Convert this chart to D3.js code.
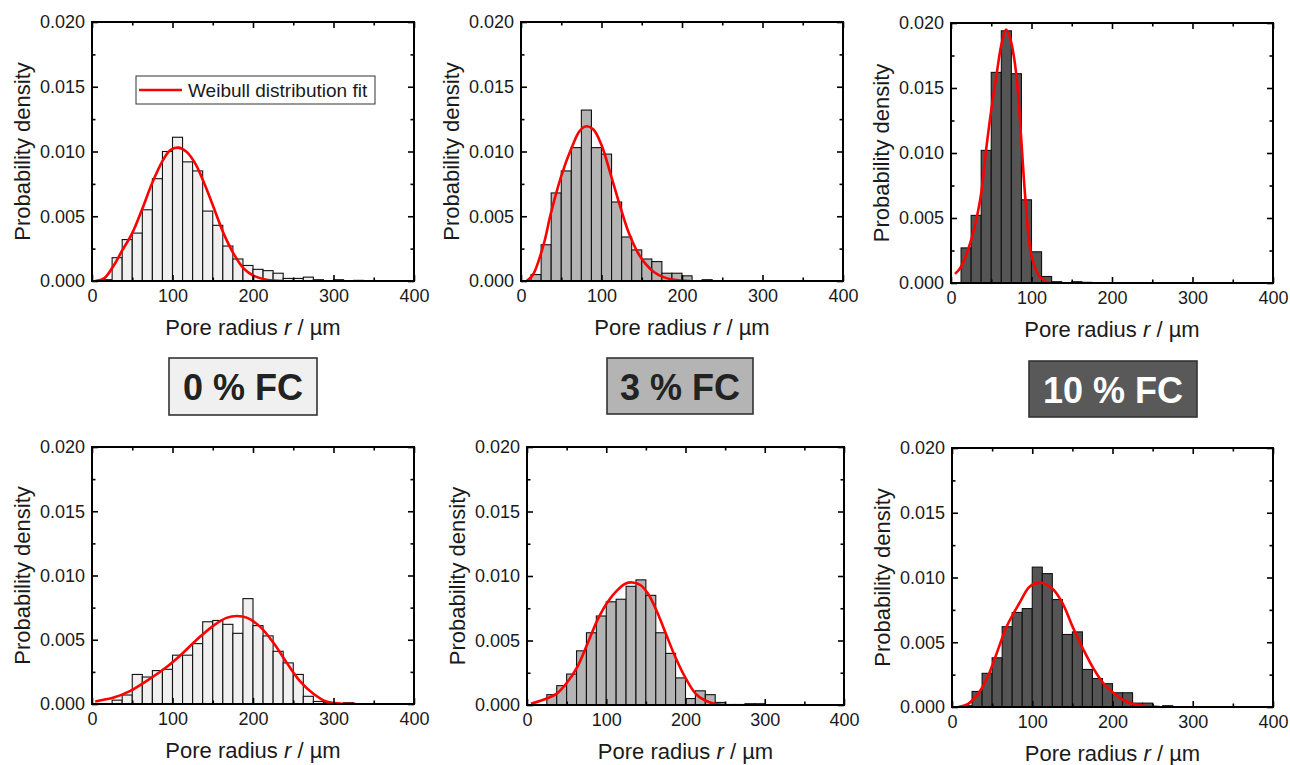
<!DOCTYPE html>
<html><head><meta charset="utf-8">
<script src="https://cdn.jsdelivr.net/npm/d3@7"></script>
<style>
body{margin:0;background:#fff}
svg text{font-family:"Liberation Sans",Arial,Helvetica,sans-serif}
</style>
</head><body>
<svg id="chart" width="1290" height="765"></svg>
<script>
// ---- data ----
const bins = [12.5,25,37.5,50,62.5,75,87.5,100,112.5,125,137.5,150,162.5,175,187.5,200,212.5,225,237.5,250,262.5,275,287.5,300,312.5,325,337.5];
const binWidth = 12.5;

const dens0Top  = [0.0001,0.0018,0.0032,0.0037,0.0055,0.0079,0.0100,0.0111,0.0092,0.0085,0.0054,0.0043,0.0027,0.0017,0.0012,0.0009,0.0008,0.0006,0.0002,0.0002,0.0003,0.0001,0,0.0001,0,0.00005,0];
const dens3Top  = [0.0005,0.0028,0.0068,0.0085,0.0103,0.0132,0.0103,0.0098,0.0061,0.0034,0.0024,0.0017,0.0015,0.0006,0.0006,0.0004,0,0.0001,0,0,0,0,0,0,0,0,0];
const dens10Top = [0.0027,0.0052,0.0102,0.0162,0.0194,0.0161,0.0064,0.0024,0.0005,0.0001,0,0.0001,0.00005,0,0,0,0,0,0,0,0,0,0,0,0,0,0];
const dens0Bot  = [0,0.0003,0.0007,0.0023,0.0021,0.0026,0.0027,0.0038,0.0038,0.0047,0.0064,0.0065,0.0062,0.0055,0.0082,0.0061,0.0053,0.0041,0.0032,0.0023,0.0006,0.0002,0.0001,0,0.0001,0,0];
const dens3Bot  = [0,0.0008,0.0015,0.0024,0.0042,0.0056,0.0069,0.0080,0.0082,0.0092,0.0097,0.0085,0.0056,0.0040,0.0021,0.0005,0.0011,0.0008,0.0002,0.00004,0.00004,0.0001,0.0001,0,0,0,0];
const dens10Bot = [0.0001,0.0012,0.0026,0.0038,0.0062,0.0073,0.0076,0.0108,0.0103,0.0083,0.0056,0.0058,0.0029,0.0022,0.0018,0.0011,0.0011,0.0003,0.0003,0,0.0001,0,0,0,0,0,0];

// Weibull fit curves [r, density]
const fit0Top  = [[4,0],[15,0.0002],[27,0.0012],[37,0.0023],[50,0.0037],[62,0.0055],[75,0.0076],[87,0.0092],[97,0.0101],[107,0.0103],[117,0.0100],[128,0.0091],[139,0.0076],[151,0.0057],[164,0.0036],[176,0.0021],[188,0.0010],[201,0.0004],[217,0.0001],[238,0]];
const fit3Top  = [[7,0],[15,0.0005],[28,0.0028],[37,0.0052],[50,0.0081],[63,0.0103],[73,0.0116],[81.5,0.01195],[90,0.0117],[100,0.0105],[112,0.0081],[124,0.0056],[134,0.0037],[145,0.0022],[155,0.0013],[165,0.0007],[177,0.0003],[190,0.0001],[210,0]];
const fit10Top = [[5,0.0007],[12,0.0012],[25,0.0033],[36.5,0.0065],[43.5,0.0102],[50,0.0133],[57,0.0162],[62.5,0.0183],[68.5,0.0195],[74,0.0187],[81,0.0161],[87,0.0113],[92.5,0.0064],[100,0.0021],[110,0.0005],[121,0]];
const fit0Bot  = [[4,0.0002],[27,0.0005],[47,0.0010],[68,0.0018],[89,0.0027],[110,0.0038],[130,0.0050],[151,0.0061],[167,0.0067],[180,0.00685],[193,0.0067],[209,0.0060],[225,0.0048],[242,0.0032],[258,0.0018],[275,0.0008],[291,0.0002],[308,0.00004],[328,0]];
const fit3Bot  = [[5,0.0001],[25,0.0005],[38,0.0009],[50,0.0017],[63,0.0029],[76,0.0047],[89,0.0066],[102,0.0080],[114,0.0089],[124,0.0094],[133,0.0095],[143,0.0093],[153,0.0086],[165,0.0071],[176,0.0054],[188,0.0036],[200,0.0021],[214,0.0008],[231,0.0002],[248,0]];
const fit10Bot = [[8,0],[19,0.0002],[31,0.0009],[43.5,0.0022],[56,0.0042],[68,0.0062],[84.7,0.0081],[97,0.0093],[110,0.0096],[124,0.0092],[137,0.0081],[151,0.0061],[164,0.0044],[176,0.0030],[189,0.0018],[201,0.0011],[213.5,0.00054],[226,0.00023],[243,0.00008],[259,0]];

const xTicks = [0,100,200,300,400];
const xMinor = [50,150,250,350];
const yTicks = [0,0.005,0.010,0.015,0.020];
const yMinor = [0.0025,0.0075,0.0125,0.0175];
const groupLabels = ["0 % FC","3 % FC","10 % FC"];
const xTitle = ["Pore radius ","r"," / µm"];
const yTitle = "Probability density";
const legendText = "Weibull distribution fit";

// ---- layout ----
const fills = ["#f0f0f0","#b4b4b4","#555555"];
const panels = [
  {l:92, r:414, t:22, b:281, dens:dens0Top, fit:fit0Top, fill:fills[0], legend:true},
  {l:521,r:843, t:22, b:281, dens:dens3Top, fit:fit3Top, fill:fills[1]},
  {l:951,r:1273,t:23, b:283, dens:dens10Top,fit:fit10Top,fill:fills[2]},
  {l:92, r:414, t:447,b:704, dens:dens0Bot, fit:fit0Bot, fill:fills[0]},
  {l:527,r:844, t:447,b:705, dens:dens3Bot, fit:fit3Bot, fill:fills[1]},
  {l:952,r:1273,t:448,b:707, dens:dens10Bot,fit:fit10Bot,fill:fills[2]}
];
const boxes = [
  {x:169,y:358,w:148,h:57, fill:"#f0f0f0", color:"#222"},
  {x:607,y:358,w:146,h:56, fill:"#b4b4b4", color:"#222"},
  {x:1029,y:361,w:168,h:56, fill:"#595959", color:"#ffffff"}
];

const svg = d3.select("#chart");
const tickFont = "18px", titleFont = "22px";

panels.forEach((p,pi) => {
  const g = svg.append("g");
  const x = d3.scaleLinear().domain([0,400]).range([p.l,p.r]);
  const y = d3.scaleLinear().domain([0,0.02]).range([p.b,p.t]);

  const clipId = "clip"+pi;
  g.append("clipPath").attr("id",clipId).append("rect")
    .attr("x",p.l).attr("y",p.t).attr("width",p.r-p.l).attr("height",p.b-p.t);

  // bars
  const barData = bins.map((b,i)=>({b, v:p.dens[i]})).filter(d=>d.v>0);
  g.append("g").selectAll("rect").data(barData).join("rect")
    .attr("x", d=>x(d.b))
    .attr("width", d=>x(d.b+binWidth)-x(d.b))
    .attr("y", d=>y(d.v))
    .attr("height", d=>y(0)-y(d.v))
    .attr("fill", p.fill)
    .attr("stroke", "#111")
    .attr("stroke-width", 1.1);

  // fit curve
  const line = d3.line().x(d=>x(d[0])).y(d=>y(d[1])).curve(d3.curveCatmullRom.alpha(0.5));
  g.append("path").datum(p.fit).attr("d", line).attr("clip-path",`url(#${clipId})`)
    .attr("fill","none").attr("stroke","#ff0000").attr("stroke-width",2.6);

  // axes
  const styleAxis = sel => {
    sel.select(".domain").remove();
    sel.selectAll("line").attr("stroke","#000").attr("stroke-width",1.6);
    sel.selectAll("text").attr("fill","#1a1a1a").style("font-size",tickFont)
      .style("font-family","'Liberation Sans',Arial,sans-serif");
  };
  g.append("g").attr("transform",`translate(0,${p.b})`)
    .call(d3.axisBottom(x).tickValues(xTicks).tickSize(-6).tickPadding(8).tickFormat(d3.format("d"))).call(styleAxis);
  g.append("g").attr("transform",`translate(0,${p.b})`)
    .call(d3.axisBottom(x).tickValues(xMinor).tickSize(-3.5).tickFormat("")).call(styleAxis);
  g.append("g").attr("transform",`translate(0,${p.t})`)
    .call(d3.axisTop(x).tickValues(xTicks).tickSize(-6).tickFormat("")).call(styleAxis);
  g.append("g").attr("transform",`translate(0,${p.t})`)
    .call(d3.axisTop(x).tickValues(xMinor).tickSize(-3.5).tickFormat("")).call(styleAxis);
  g.append("g").attr("transform",`translate(${p.l},0)`)
    .call(d3.axisLeft(y).tickValues(yTicks).tickSize(-6).tickPadding(7).tickFormat(d3.format(".3f"))).call(styleAxis);
  g.append("g").attr("transform",`translate(${p.l},0)`)
    .call(d3.axisLeft(y).tickValues(yMinor).tickSize(-3.5).tickFormat("")).call(styleAxis);
  g.append("g").attr("transform",`translate(${p.r},0)`)
    .call(d3.axisRight(y).tickValues(yTicks).tickSize(-6).tickFormat("")).call(styleAxis);
  g.append("g").attr("transform",`translate(${p.r},0)`)
    .call(d3.axisRight(y).tickValues(yMinor).tickSize(-3.5).tickFormat("")).call(styleAxis);

  // frame
  g.append("rect").attr("x",p.l).attr("y",p.t).attr("width",p.r-p.l).attr("height",p.b-p.t)
    .attr("fill","none").attr("stroke","#000").attr("stroke-width",2);

  // axis titles
  const xt = g.append("text").attr("x",(p.l+p.r)/2).attr("y",p.b+54)
    .attr("text-anchor","middle").style("font-size",titleFont).attr("fill","#1a1a1a");
  xt.append("tspan").text(xTitle[0]);
  xt.append("tspan").style("font-style","italic").text(xTitle[1]);
  xt.append("tspan").text(xTitle[2]);

  g.append("text")
    .attr("transform",`translate(${p.l-70},${(p.t+p.b)/2}) rotate(-90)`)
    .attr("dy","0.35em").attr("text-anchor","middle")
    .style("font-size",titleFont).attr("fill","#1a1a1a").text(yTitle);

  // legend
  if (p.legend) {
    const lg = g.append("g");
    lg.append("rect").attr("x",136).attr("y",76).attr("width",239).attr("height",28)
      .attr("fill","#fff").attr("stroke","#333").attr("stroke-width",1);
    lg.append("line").attr("x1",139).attr("x2",182).attr("y1",90).attr("y2",90)
      .attr("stroke","#ff0000").attr("stroke-width",2.6);
    lg.append("text").attr("x",188).attr("y",96.5).style("font-size","19px")
      .attr("fill","#1a1a1a").text(legendText);
  }
});

// group label boxes
boxes.forEach((bx,i) => {
  svg.append("rect").attr("x",bx.x).attr("y",bx.y).attr("width",bx.w).attr("height",bx.h)
    .attr("fill",bx.fill).attr("stroke","#333").attr("stroke-width",1.6);
  svg.append("text").attr("x",bx.x+bx.w/2).attr("y",bx.y+42)
    .attr("text-anchor","middle").style("font-size","36px").style("font-weight","bold")
    .attr("fill",bx.color).text(groupLabels[i]);
});
</script>
</body></html>
